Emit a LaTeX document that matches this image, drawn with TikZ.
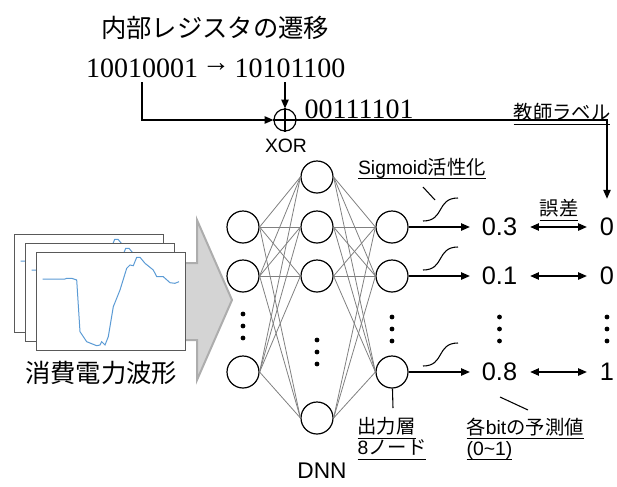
\documentclass[tikz,border=0pt]{standalone}
\usepackage{fontspec}
\setmainfont{Liberation Sans}
\newfontfamily\jpfont{Noto Sans CJK JP}
\newfontfamily\bitfont{Liberation Serif}
\usetikzlibrary{arrows.meta,calc}
\definecolor{wavecurve}{HTML}{5B9BD5}
\definecolor{arrowfill}{HTML}{D4D4D4}
\definecolor{arrowedge}{HTML}{ADADAD}
\definecolor{linkgray}{HTML}{808080}
\newcommand{\undl}[1]{\sbox0{#1}\rlap{\smash{\rule[-4pt]{\wd0}{0.8pt}}}\usebox0}

\begin{document}
\begin{tikzpicture}[x=0.75pt, y=-0.75pt,
    neuron/.style={circle, draw, line width=0.9pt, minimum size=24pt, inner sep=0pt},
    link/.style={draw=linkgray, line width=0.6pt},
    tip/.style={-{Triangle[length=6.5pt,width=5.5pt]}},
    outarrow/.style={tip, line width=0.9pt, shorten >=5.5pt},
    errarrow/.style={{Triangle[length=6.5pt,width=5.5pt]}-{Triangle[length=6.5pt,width=5.5pt]},
      line width=0.9pt, shorten <=6.3pt, shorten >=6.3pt},
    fbline/.style={tip, line width=0.8pt},
    lbl/.style={font=\fontsize{14.5pt}{15.75pt}\selectfont, align=left, inner sep=1pt},
    big/.style={font=\jpfont\fontsize{19pt}{22pt}\selectfont},
    val/.style={font=\fontsize{19pt}{22pt}\selectfont},
    bits/.style={font=\bitfont\fontsize{21pt}{24pt}\selectfont},
    leader/.style={line width=0.8pt},
    window/.style={draw=black!65, fill=white, line width=0.75pt},
    wave/.style={draw=wavecurve, line width=0.75pt},
    bigarrow/.style={fill=arrowfill, draw=arrowedge, line width=1.5pt, line join=miter},
    xorgate/.style={circle, draw, line width=0.9pt, minimum size=16.5pt, inner sep=0pt}]
  \useasboundingbox (0,0) rectangle (617,486);

  % register transition and XOR
  \node[big] (title) at (215,28) {内部レジスタの遷移};
  \node[bits] (prevst) at (142,68) {10010001};
  \node[bits] (shiftarr) at (216,68) {→};
  \node[bits] (nextst) at (290,68) {10101100};
  \node[xorgate] (xor) at (285,120) {};
  \draw[line width=0.9pt] (xor.north) -- (xor.south) (xor.west) -- (xor.east);
  \node[lbl] (xorlab) at (286,146) {XOR};
  \node[bits, anchor=west] (xorout) at (300,109) {00111101};
  \draw[fbline] (prevst.south) |- (xor.west);
  \draw[fbline] (nextst.south -| xor.north) -- (xor.north);

  % power traces
  \draw[bigarrow] (170,263) -- (197,263) -- (197,220) -- (232,300) -- (197,380)
    -- (197,340) -- (170,340) -- cycle;
  \foreach \sx/\sy in {-22/-18, -11/-9, 0/0} {
    \begin{scope}[shift={(\sx,\sy)}]
      \draw[window] (36,252) rectangle (185,350);
      \draw[wave] (42.7,279) -- (65,279) -- (66.7,278.3) -- (71.7,278.3) -- (76.7,280)
        -- (80,331.7) -- (86.7,341.7) -- (96.7,345.7) -- (100,345) -- (101.7,341.7)
        -- (105,345) -- (108.3,336.7) -- (113.3,306.7) -- (120,290) -- (126.7,268.3)
        -- (130,265) -- (133.3,265.7) -- (136.7,257.3) -- (140,257.3) -- (145,263.3)
        -- (153.3,270) -- (156.7,276.7) -- (163.3,276.7) -- (170,282.7) -- (175,283.3)
        -- (179,281.7);
    \end{scope}
  }
  \node[big] (tracelab) at (101,373) {消費電力波形};

  % network
  \foreach \n/\y in {1/227, 2/276, 3/372} \node[neuron] (i\n) at (243,\y) {};
  \foreach \n/\y in {1/177, 2/227, 3/276, 4/418} \node[neuron] (h\n) at (317,\y) {};
  \foreach \n/\y in {1/227, 2/276, 3/372} \node[neuron] (o\n) at (392,\y) {};
  \foreach \a in {1,2,3}
    \foreach \b in {1,...,4} \draw[link] (i\a.east) -- (h\b.west);
  \foreach \a in {1,...,4}
    \foreach \b in {1,2,3} \draw[link] (h\a.east) -- (o\b.west);
  \foreach \x/\y in {243/314, 317/340, 392/317, 499.5/317, 607/317}
    \foreach \k in {0,1,2} \fill (\x,\y+12*\k) circle (2.4);
  \node[lbl, font=\fontsize{17pt}{20pt}\selectfont] (dnn) at (322,471) {DNN};

  % outputs and labels
  \node[val] (v1) at (499.5,227) {0.3};
  \node[val] (v2) at (499.5,276) {0.1};
  \node[val] (v3) at (499.5,372) {0.8};
  \node[val] (t1) at (607,227) {0};
  \node[val] (t2) at (607,276) {0};
  \node[val] (t3) at (607,372) {1};
  \foreach \n in {1,2,3} {
    \draw[outarrow] (o\n) -- (v\n);
    \draw[errarrow] (v\n) -- (t\n);
  }
  \foreach \y in {227,276,372}
    \draw[leader] (423,\y-6) .. controls (445,\y-6) and (436,\y-29) .. (458,\y-29);
  \draw[fbline, shorten >=11pt] (xor.east) -| (t1.north);
  \node[lbl] (teach) at (562,112) {\undl{\jpfont 教師ラベル}};
  \node[lbl] (err) at (559,208) {\undl{\jpfont 誤差}};
  \node[lbl] (sig) at (422,168) {\undl{Sigmoid{\jpfont 活性化}}};
  \coordinate (sigtip) at (435,200);
  \draw[leader] (sigtip) -- +(-12,-13);
  \node[lbl, anchor=north west] (outlab) at (356,416) {\undl{\jpfont 出力層}\\\undl{8{\jpfont ノード}}};
  \coordinate (outtip) at (393,408);
  \draw[leader] (o3) -- (outtip);
  \node[lbl, anchor=north west] (pred) at (465,416) {\undl{{\jpfont 各}bit{\jpfont の予測値}}\\\undl{(0\textasciitilde1)}};
  \coordinate (predtip) at (528,410);
  \draw[leader] (predtip) -- +(-28,-13);
\end{tikzpicture}
\end{document}
